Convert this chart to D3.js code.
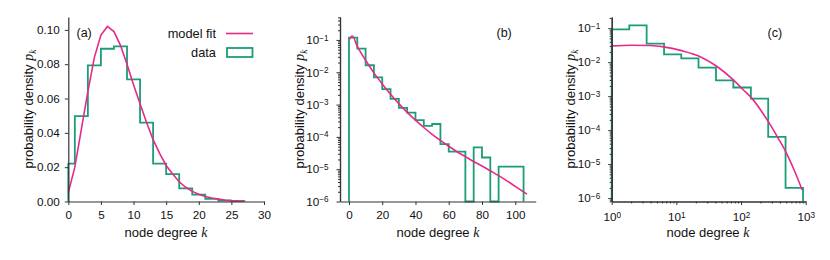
<!DOCTYPE html>
<html>
<head>
<meta charset="utf-8">
<script src="https://cdn.jsdelivr.net/npm/d3@7"></script>
<style>
  body { margin: 0; background: #fff; }
  svg text { font-family: "Liberation Sans", Arial, Helvetica, sans-serif; fill: #111; }
</style>
</head>
<body>
<div id="chart"></div>
<script>
const width = 830;
const height = 260;
const green = "#1b9e77";
const pink = "#e7298a";

// (a) linear histogram, bin edges and heights
const edgesA = [0, 1, 3, 5, 7, 9, 11, 13, 15, 17, 19, 21, 23, 25, 27];
const histA = [0.0221, 0.0498, 0.0793, 0.0890, 0.0904, 0.0711, 0.0460, 0.0221, 0.0159, 0.0076, 0.0040, 0.0015, 0.0005, 0.0002];
const fitKA = [0, 1, 2, 3, 4, 5, 6, 7, 8, 9, 10, 11, 12, 13, 14, 15, 16, 17, 18, 19, 20, 21, 22, 23, 24, 25, 26, 27];
const fitA = [0.0052, 0.020, 0.042, 0.064, 0.084, 0.097, 0.102, 0.099, 0.091, 0.080, 0.068, 0.057, 0.046, 0.036, 0.028, 0.021, 0.016, 0.0115, 0.0083, 0.0059, 0.0042, 0.0029, 0.0020, 0.0014, 0.0009, 0.0006, 0.0004, 0.0003];

// (b) log-linear
const edgesB = [0, 5, 10, 15, 20, 25, 30, 35, 40, 45, 50, 55, 60, 65, 70, 75, 80, 85, 90, 95, 100, 105];
const histB = [0.118, 0.054, 0.0165, 0.0069, 0.0030, 0.0015, 0.00079, 0.00056, 0.00033, 0.00022, 0.00025, 0.00006, 0.000035, 0.000035, 0, 0.000047, 0.000023, 0, 0.000012, 0.000012, 0.000012];
const fitKB = [0, 2, 5, 10, 15, 20, 25, 30, 35, 40, 45, 50, 55, 60, 65, 70, 75, 80, 85, 90, 95, 100, 107];
const fitLogB = [-1.0, -0.88, -1.2, -1.63, -2.02, -2.36, -2.68, -2.97, -3.24, -3.48, -3.71, -3.92, -4.11, -4.29, -4.46, -4.61, -4.76, -4.9, -5.05, -5.2, -5.36, -5.53, -5.77];

// (c) log-log
const edgesC = [1, 1.87, 3.47, 6.45, 11.9, 22, 41, 76, 142, 263, 488, 910];
const histC = [0.093, 0.122, 0.035, 0.017, 0.013, 0.0069, 0.0029, 0.0018, 0.00085, 0.000063, 0.000002];
const fitKC = [1, 2, 4, 6.3, 12, 23, 42, 76, 108, 145, 264, 376, 490, 645, 883];
const fitLogC = [-1.52, -1.5, -1.51, -1.55, -1.66, -1.83, -2.12, -2.52, -2.81, -3.05, -3.75, -4.24, -4.63, -5.12, -5.76];

const linTicksA = [0, 5, 10, 15, 20, 25, 30];
const yTicksA = [0, 0.02, 0.04, 0.06, 0.08, 0.1];
const xTicksB = [0, 20, 40, 60, 80, 100];
const decades = [-6, -5, -4, -3, -2, -1];
const xDecadesC = [0, 1, 2, 3];

const svg = d3.select("#chart").append("svg")
  .attr("width", width).attr("height", height);

const plotTop = 17, plotBottom = 201.5;

function minorLog(lo, hi) {
  const out = [];
  for (let e = Math.floor(lo) - 1; e <= Math.ceil(hi); e++) {
    for (let m = 2; m <= 9; m++) {
      const v = m * Math.pow(10, e);
      const l = Math.log10(v);
      if (l >= lo && l <= hi) out.push(v);
    }
  }
  return out;
}

function styleAxis(g) {
  g.select(".domain").attr("stroke", "#333").attr("stroke-width", 1.2);
  g.selectAll(".tick line").attr("stroke", "#333").attr("stroke-width", 1);
  g.selectAll(".tick text").attr("font-size", "11.7px").attr("fill", "#111")
    .attr("font-family", "'Liberation Sans', Arial, sans-serif");
}

function powLabels(g, anchor) {
  g.selectAll(".tick text").each(function (d) {
    const t = d3.select(this);
    const e = Math.round(Math.log10(d));
    t.text(null).attr("text-anchor", anchor);
    t.append("tspan").text("10");
    t.append("tspan").attr("dy", "-0.45em").attr("font-size", "8.2px")
      .text(e < 0 ? "\u2212" + (-e) : e);
  });
}

function stepPath(edges, vals, x, y, floorY) {
  const p = d3.path();
  p.moveTo(x(edges[0]), floorY);
  vals.forEach((v, i) => {
    const yy = v > 0 ? y(v) : floorY;
    p.lineTo(x(edges[i]), yy);
    p.lineTo(x(edges[i + 1]), yy);
  });
  p.lineTo(x(edges[edges.length - 1]), floorY);
  return p.toString();
}

function yLabel(cx, cy) {
  const t = svg.append("text")
    .attr("transform", `translate(${cx},${cy}) rotate(-90)`)
    .attr("text-anchor", "middle")
    .attr("font-size", "13px");
  t.append("tspan").text("probability density ");
  t.append("tspan").attr("font-family", "'Liberation Serif', 'DejaVu Serif', serif")
    .attr("font-style", "italic").attr("font-size", "14px").text("p");
  t.append("tspan").attr("font-family", "'Liberation Serif', 'DejaVu Serif', serif")
    .attr("font-style", "italic").attr("font-size", "9.5px").attr("dy", "0.3em").text("k");
}

function xLabel(cx) {
  const t = svg.append("text")
    .attr("x", cx).attr("y", 237)
    .attr("text-anchor", "middle")
    .attr("font-size", "13px");
  t.append("tspan").text("node degree ");
  t.append("tspan").attr("font-family", "'Liberation Serif', 'DejaVu Serif', serif")
    .attr("font-style", "italic").attr("font-size", "14px").text("k");
}

function panelTag(x, txt) {
  svg.append("text").attr("x", x).attr("y", 37)
    .attr("font-size", "12.5px").text(txt);
}

// ---------- panel (a) ----------
{
  const x = d3.scaleLinear().domain([0, 30]).range([68.3, 264]);
  const y = d3.scaleLinear().domain([0, 0.1075]).range([plotBottom, plotTop]);

  svg.append("path")
    .attr("d", stepPath(edgesA, histA, x, y, y(0)))
    .attr("fill", "none").attr("stroke", green).attr("stroke-width", 1.8);

  svg.append("path")
    .datum(fitKA.map((k, i) => [k, fitA[i]]))
    .attr("d", d3.line().x((d) => x(d[0])).y((d) => y(d[1])))
    .attr("fill", "none").attr("stroke", pink).attr("stroke-width", 1.6);

  svg.append("g").attr("transform", `translate(0,${plotBottom})`)
    .call(d3.axisBottom(x).tickValues(linTicksA).tickSize(3.5).tickSizeOuter(0).tickPadding(6))
    .call(styleAxis);
  svg.append("g").attr("transform", `translate(${x.range()[0]},0)`)
    .call(d3.axisLeft(y).tickValues(yTicksA).tickFormat(d3.format(".2f")).tickSize(3.5).tickSizeOuter(0).tickPadding(5))
    .call(styleAxis);

  yLabel(33, 109);
  xLabel(166);
  panelTag(76.5, "(a)");

  // legend
  const lg = svg.append("g").attr("font-size", "12.8px");
  lg.append("text").attr("x", 216).attr("y", 37.5).attr("text-anchor", "end").text("model fit");
  lg.append("text").attr("x", 216).attr("y", 56.5).attr("text-anchor", "end").text("data");
  lg.append("line").attr("x1", 226).attr("x2", 253).attr("y1", 33.5).attr("y2", 33.5)
    .attr("stroke", pink).attr("stroke-width", 1.6);
  lg.append("rect").attr("x", 227).attr("y", 48).attr("width", 25.5).attr("height", 9)
    .attr("fill", "none").attr("stroke", green).attr("stroke-width", 1.8);
}

// ---------- panel (b) ----------
{
  const x = d3.scaleLinear().domain([-5.4, 112.3]).range([340, 535.7]);
  const y = d3.scaleLog().domain([1e-6, Math.pow(10, -0.29)]).range([plotBottom, plotTop]);

  svg.append("path")
    .attr("d", stepPath(edgesB, histB, x, y, plotBottom))
    .attr("fill", "none").attr("stroke", green).attr("stroke-width", 1.8);

  svg.append("path")
    .datum(fitKB.map((k, i) => [k, Math.pow(10, fitLogB[i])]))
    .attr("d", d3.line().curve(d3.curveMonotoneX).x((d) => x(d[0])).y((d) => y(d[1])))
    .attr("fill", "none").attr("stroke", pink).attr("stroke-width", 1.6);

  svg.append("g").attr("transform", `translate(0,${plotBottom})`)
    .call(d3.axisBottom(x).tickValues(xTicksB).tickSize(3.5).tickSizeOuter(0).tickPadding(6))
    .call(styleAxis);
  svg.append("g").attr("transform", "translate(340,0)")
    .call(d3.axisLeft(y).tickValues(minorLog(-6, -0.29)).tickFormat("").tickSize(2).tickSizeOuter(0))
    .call(styleAxis);
  svg.append("g").attr("transform", "translate(340,0)")
    .call(d3.axisLeft(y).tickValues(decades.map((e) => Math.pow(10, e))).tickSize(3.5).tickSizeOuter(0).tickPadding(8))
    .call(styleAxis)
    .call((g) => powLabels(g, "end"));

  yLabel(304, 109);
  xLabel(438);
  panelTag(496.5, "(b)");
}

// ---------- panel (c) ----------
{
  const x = d3.scaleLog().domain([1, 1000]).range([611.7, 805.7]);
  const y = d3.scaleLog().domain([Math.pow(10, -6.1), Math.pow(10, -0.67)]).range([plotBottom, plotTop]);

  svg.append("path")
    .attr("d", stepPath(edgesC, histC, x, y, plotBottom))
    .attr("fill", "none").attr("stroke", green).attr("stroke-width", 1.8);

  svg.append("path")
    .datum(fitKC.map((k, i) => [k, Math.pow(10, fitLogC[i])]))
    .attr("d", d3.line().curve(d3.curveMonotoneX).x((d) => x(d[0])).y((d) => y(d[1])))
    .attr("fill", "none").attr("stroke", pink).attr("stroke-width", 1.6);

  svg.append("g").attr("transform", `translate(0,${plotBottom})`)
    .call(d3.axisBottom(x).tickValues(minorLog(0, 3)).tickFormat("").tickSize(2).tickSizeOuter(0))
    .call(styleAxis);
  svg.append("g").attr("transform", `translate(0,${plotBottom})`)
    .call(d3.axisBottom(x).tickValues(xDecadesC.map((e) => Math.pow(10, e))).tickSize(3.5).tickSizeOuter(0).tickPadding(8))
    .call(styleAxis)
    .call((g) => powLabels(g, "middle"));
  svg.append("g").attr("transform", "translate(611.7,0)")
    .call(d3.axisLeft(y).tickValues(minorLog(-6.1, -0.67)).tickFormat("").tickSize(2).tickSizeOuter(0))
    .call(styleAxis);
  svg.append("g").attr("transform", "translate(611.7,0)")
    .call(d3.axisLeft(y).tickValues(decades.map((e) => Math.pow(10, e))).tickSize(3.5).tickSizeOuter(0).tickPadding(8))
    .call(styleAxis)
    .call((g) => powLabels(g, "end"));

  yLabel(575, 109);
  xLabel(708);
  panelTag(767.5, "(c)");
}
</script>
</body>
</html>
